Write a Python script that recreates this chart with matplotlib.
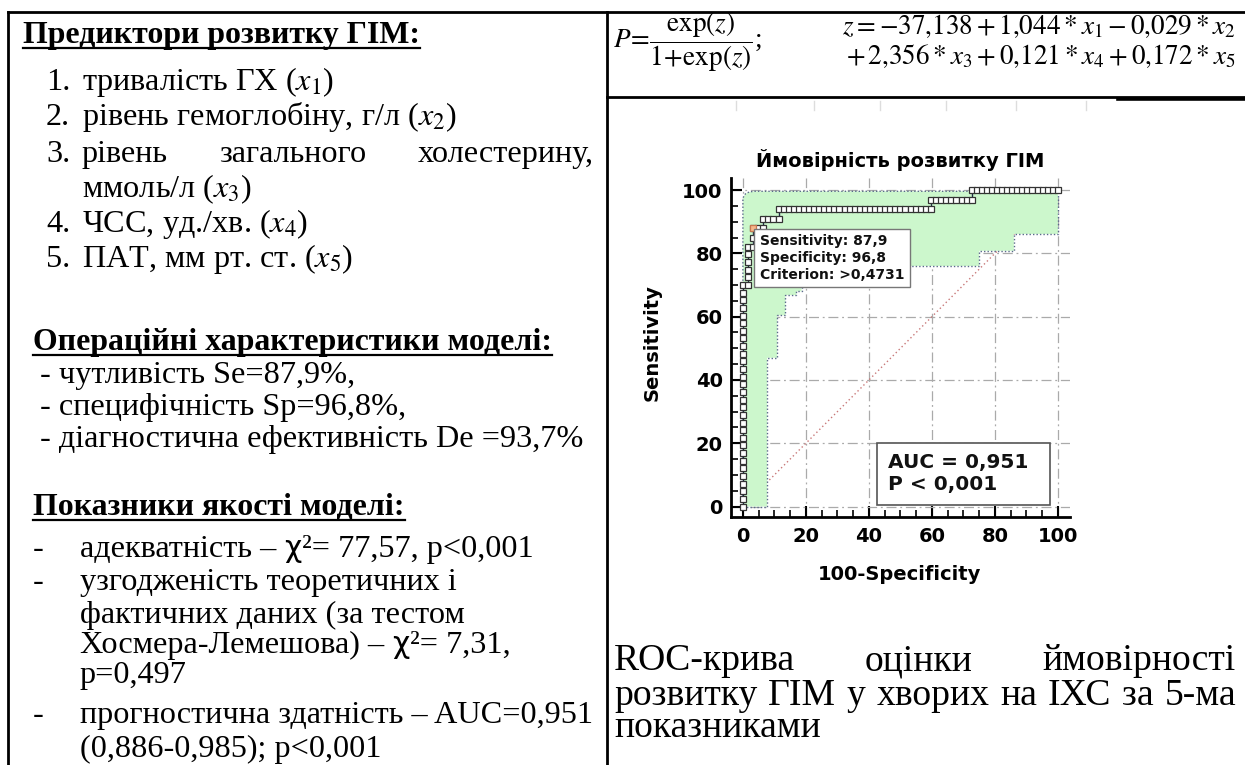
import matplotlib
matplotlib.use("Agg")
import matplotlib.pyplot as plt
from matplotlib.lines import Line2D
from matplotlib.patches import Rectangle
from matplotlib.ticker import MultipleLocator
import numpy as np

plt.rcParams['mathtext.fontset'] = 'stix'

# ROC curve points (100-Specificity, Sensitivity)
roc_fpr = [0, 0, 0, 0, 0, 0, 0, 0, 0, 0,
           0, 0, 0, 0, 0, 0, 0, 0, 0, 0,
           0, 0, 0, 0, 0, 0, 0, 0, 0, 0,
           1.6, 1.6, 1.6, 1.6, 1.6, 1.6,
           3.2, 3.2, 3.2, 4.8, 6.5,
           6.5, 8.1, 9.7, 11.3,
           11.3, 12.9, 14.5, 16.1, 17.7, 19.4, 21.0, 22.6, 24.2, 25.8, 27.4,
           29.0, 30.6, 32.3, 33.9, 35.5, 37.1, 38.7, 40.3, 41.9, 43.5, 45.2,
           46.8, 48.4, 50.0, 51.6, 53.2, 54.8, 56.5, 58.1, 59.7,
           59.7, 61.3, 62.9, 64.5, 66.1, 67.7, 69.4, 71.0, 72.6,
           72.6, 74.2, 75.8, 77.4, 79.0, 80.6, 82.3, 83.9, 85.5, 87.1, 88.7,
           90.3, 91.9, 93.5, 95.2, 96.8, 98.4, 100.0]
roc_tpr = [0.0, 2.4, 4.8, 7.2, 9.7, 12.1, 14.5, 16.9, 19.3, 21.7,
           24.1, 26.5, 29.0, 31.4, 33.8, 36.2, 38.6, 41.0, 43.4, 45.9,
           48.3, 50.7, 53.1, 55.5, 57.9, 60.3, 62.8, 65.2, 67.6, 70.0,
           70.0, 72.4, 74.8, 77.3, 79.7, 82.1,
           82.1, 84.8, 87.9, 87.9, 87.9,
           90.9, 90.9, 90.9, 90.9,
           93.9, 93.9, 93.9, 93.9, 93.9, 93.9, 93.9, 93.9, 93.9, 93.9, 93.9,
           93.9, 93.9, 93.9, 93.9, 93.9, 93.9, 93.9, 93.9, 93.9, 93.9, 93.9,
           93.9, 93.9, 93.9, 93.9, 93.9, 93.9, 93.9, 93.9, 93.9,
           97.0, 97.0, 97.0, 97.0, 97.0, 97.0, 97.0, 97.0, 97.0,
           100, 100, 100, 100, 100, 100, 100, 100, 100, 100, 100,
           100, 100, 100, 100, 100, 100, 100]

# optimal criterion point
crit_x = [3.2]
crit_y = [87.9]

# 95% confidence band of the curve
upper_x = [0, 0, 0.8, 2.0, 3.5, 100]
upper_y = [0, 97.5, 98.8, 99.4, 99.6, 99.6]
lower_x = [0, 7.7, 7.7, 10.9, 10.9, 13.5, 13.5, 17.0, 17.0, 18.6, 18.6,
           75.0, 75.0, 86.0, 86.0, 100, 100]
lower_y = [0, 0, 47.0, 47.0, 60.4, 60.4, 66.8, 66.8, 68.0, 68.0, 76.0,
           76.0, 80.8, 80.8, 86.1, 86.1, 99.6]

diag = [0, 100]
ticks = [0, 20, 40, 60, 80, 100]

W, H = 1245, 765
fig = plt.figure(figsize=(W / 100, H / 100), dpi=100)
renderer = fig.canvas.get_renderer()
SERIF = 'Liberation Serif'
SANS = 'DejaVu Sans'


def fx(x):
    return x / W


def fy(y):
    return 1 - y / H


def put(x, y, s, size, weight='normal', ha='left', family=SERIF):
    return fig.text(fx(x), fy(y), s, fontsize=size, fontweight=weight,
                    ha=ha, va='baseline', family=family)


def width(t):
    return t.get_window_extent(renderer).width


def hline(x0, x1, y, lw=2.0, color='black'):
    fig.add_artist(Line2D([fx(x0), fx(x1)], [fy(y), fy(y)], lw=lw, color=color))


def vline(x, y0, y1, lw=2.0, color='black'):
    fig.add_artist(Line2D([fx(x), fx(x)], [fy(y0), fy(y1)], lw=lw, color=color))


def underline(t, y):
    bb = t.get_window_extent(renderer)
    hline(bb.x0, bb.x1, y, lw=1.6)


def justify(words, x0, x1, y, size):
    ts = [put(0, y, w, size) for w in words]
    ws = [width(t) for t in ts]
    gap = (x1 - x0 - sum(ws)) / (len(ws) - 1)
    x = x0
    for t, w in zip(ts, ws):
        t.set_x(fx(x))
        x += w + gap


def put_runs(x, y, runs, size):
    # runs: (text, family, size factor, spaces after)
    a = put(0, y, 'н н', size)
    b = put(0, y, 'нн', size)
    space = width(a) - width(b)
    a.remove()
    b.remove()
    for s, fam, k, gap in runs:
        t = put(x, y, s, size * k, family=fam)
        x += width(t) + gap * space


# ---- table frame ----
hline(8, W, 12)
vline(8, 12, H)
vline(607, 12, H)
hline(607, W, 97)
hline(1118, W, 98.5, lw=2.6)
for gx in [736, 814, 880, 946, 1016, 1086]:
    vline(gx, 101, 110, lw=1, color='#dddddd')

# ---- left column ----
probe = put(40, 447, '- діагностична ефективність De =93,7%', 20)
body = 20 * 546 / width(probe)
probe.set_fontsize(body)

h2 = put(33, 350, 'Операційні характеристики моделі:', 20, 'bold')
head = 20 * 519 / width(h2)
h2.set_fontsize(head)
underline(h2, 355)

h1 = put(23, 43, 'Предиктори розвитку ГІМ:', head, 'bold')
underline(h1, 48)

items = [('1.', r'тривалість ГХ ($x_{\mathit{1}}$)', 90),
         ('2.', r'рівень гемоглобіну, г/л ($x_{\mathit{2}}$)', 125),
         ('3.', None, 162),
         ('', r'ммоль/л ($x_{\mathit{3}}$)', 197),
         ('4.', r'ЧСС, уд./хв. ($x_{\mathit{4}}$)', 232),
         ('5.', r'ПАТ, мм рт. ст. ($x_{\mathit{5}}$)', 267)]
for num, txt, yb in items:
    if num:
        put(46, yb, num, body)
    if txt:
        put(82, yb, txt, body)
justify(['рівень', 'загального', 'холестерину,'], 82, 594, 162, body)

put(40, 383, '- чутливість Se=87,9%,', body)
put(40, 415, '- специфічність Sp=96,8%,', body)

h3 = put(33, 515, 'Показники якості моделі:', head, 'bold')
underline(h3, 520)

for dash, yb in [('-', 557), ('-', 590), ('-', 723)]:
    put(33, yb, dash, body)
put_runs(80, 557, [('адекватність –', SERIF, 1, 1), ('χ', SANS, 0.92, 0),
                   ('²= 77,57, p<0,001', SERIF, 1, 0)], body)
put(80, 590, 'узгодженість теоретичних і', body)
put(80, 623, 'фактичних даних (за тестом', body)
put_runs(80, 653, [('Хосмера-Лемешова) –', SERIF, 1, 1), ('χ', SANS, 0.92, 0),
                   ('²= 7,31,', SERIF, 1, 0)], body)
put(80, 683, 'p=0,497', body)
put(80, 723, 'прогностична здатність – AUC=0,951', body)
put(80, 757, '(0,886-0,985); p<0,001', body)

# ---- formula ----
fsz = 19.5
fig.text(fx(613), fy(42), r'$P\!=\!\dfrac{\mathrm{exp}(z)}{1\!+\!\mathrm{exp}(z)}$;',
         fontsize=fsz, ha='left', va='center', family=SERIF)
fig.text(fx(1236), fy(34), r'$z=-37{,}138+1{,}044*x_1-0{,}029*x_2$',
         fontsize=fsz, ha='right', va='baseline')
fig.text(fx(1236), fy(64), r'$+\,2{,}356*x_3+0{,}121*x_4+0{,}172*x_5$',
         fontsize=fsz, ha='right', va='baseline')

# ---- caption ----
cprobe = put(614, 705, 'розвитку ГІМ у хворих на ІХС за 5-ма', 20)
cap = 20 * 612 / width(cprobe)
cprobe.remove()
justify(['ROC-крива', 'оцінки', 'ймовірності'], 614, 1236, 670, cap)
justify(['розвитку', 'ГІМ', 'у', 'хворих', 'на', 'ІХС', 'за', '5-ма'], 614, 1236, 705, cap)
put(614, 737, 'показниками', cap)

# ---- ROC chart ----
ax = fig.add_axes([0.5871, 0.3242, 0.2723, 0.4431])
ax.set_xlim(-3.8, 103.8)
ax.set_ylim(-3.3, 103.8)
ax.set_xticks(ticks)
ax.set_yticks(ticks)
ax.xaxis.set_minor_locator(MultipleLocator(5))
ax.yaxis.set_minor_locator(MultipleLocator(5))
ax.grid(True, which='major', color='#aaaaaa', lw=0.9, linestyle=(0, (8, 3, 1.5, 3)))
ax.set_axisbelow(True)

ax.plot(diag, diag, ls=(0, (1, 2)), color='#c87878', lw=1, zorder=1)
ax.fill(np.r_[upper_x, lower_x[::-1]], np.r_[upper_y, lower_y[::-1]],
        color='#ccf7cc', lw=0, zorder=2)
ax.plot(upper_x, upper_y, ls=(0, (1, 1.5)), color='#5a6a8a', lw=1, zorder=3)
ax.plot(lower_x, lower_y, ls=(0, (1, 1.5)), color='#5a6a8a', lw=1, zorder=3)
ax.plot(roc_fpr, roc_tpr, color='#1f2a44', lw=1, marker='s', ms=5, mfc='white',
        mec='#333333', mew=0.9, zorder=4)
ax.plot(crit_x, crit_y, 's', ms=5, mfc='#f5b88a', mec='#c87850', mew=0.9, zorder=5)

ax.add_patch(Rectangle((3.5, 69.4), 49.5, 18.3, fc='white', ec='#777777', lw=1, zorder=6))
ax.text(5.3, 78.6, 'Sensitivity: 87,9\nSpecificity: 96,8\nCriterion: >0,4731',
        fontsize=10, fontweight='bold', va='center', ha='left', linespacing=1.25,
        color='#111111', zorder=7)
ax.add_patch(Rectangle((42.5, 0.5), 55, 19.6, fc='white', ec='#555555', lw=1.2, zorder=6))
ax.text(46, 10.3, 'AUC = 0,951\nP < 0,001', fontsize=14.5, fontweight='bold',
        va='center', ha='left', linespacing=1.2, color='#111111', zorder=7)

for side in ['top', 'right']:
    ax.spines[side].set_visible(False)
for side in ['left', 'bottom']:
    ax.spines[side].set_linewidth(2)
ax.tick_params(which='major', direction='in', length=8, width=1.5, labelsize=14)
ax.tick_params(which='minor', direction='in', length=5, width=1.2)
ax.tick_params(axis='y', pad=6)
ax.tick_params(axis='x', pad=7)
for lbl in ax.get_xticklabels() + ax.get_yticklabels():
    lbl.set_fontweight('bold')

fig.text(fx(900), fy(160), 'Ймовірність розвитку ГІМ', fontsize=14, fontweight='bold',
         ha='center', va='center')
fig.text(fx(652), fy(343), 'Sensitivity', fontsize=14, fontweight='bold',
         ha='center', va='center', rotation=90)
fig.text(fx(900), fy(574), '100-Specificity', fontsize=14, fontweight='bold',
         ha='center', va='center')

fig.savefig('out.png', dpi=100)
